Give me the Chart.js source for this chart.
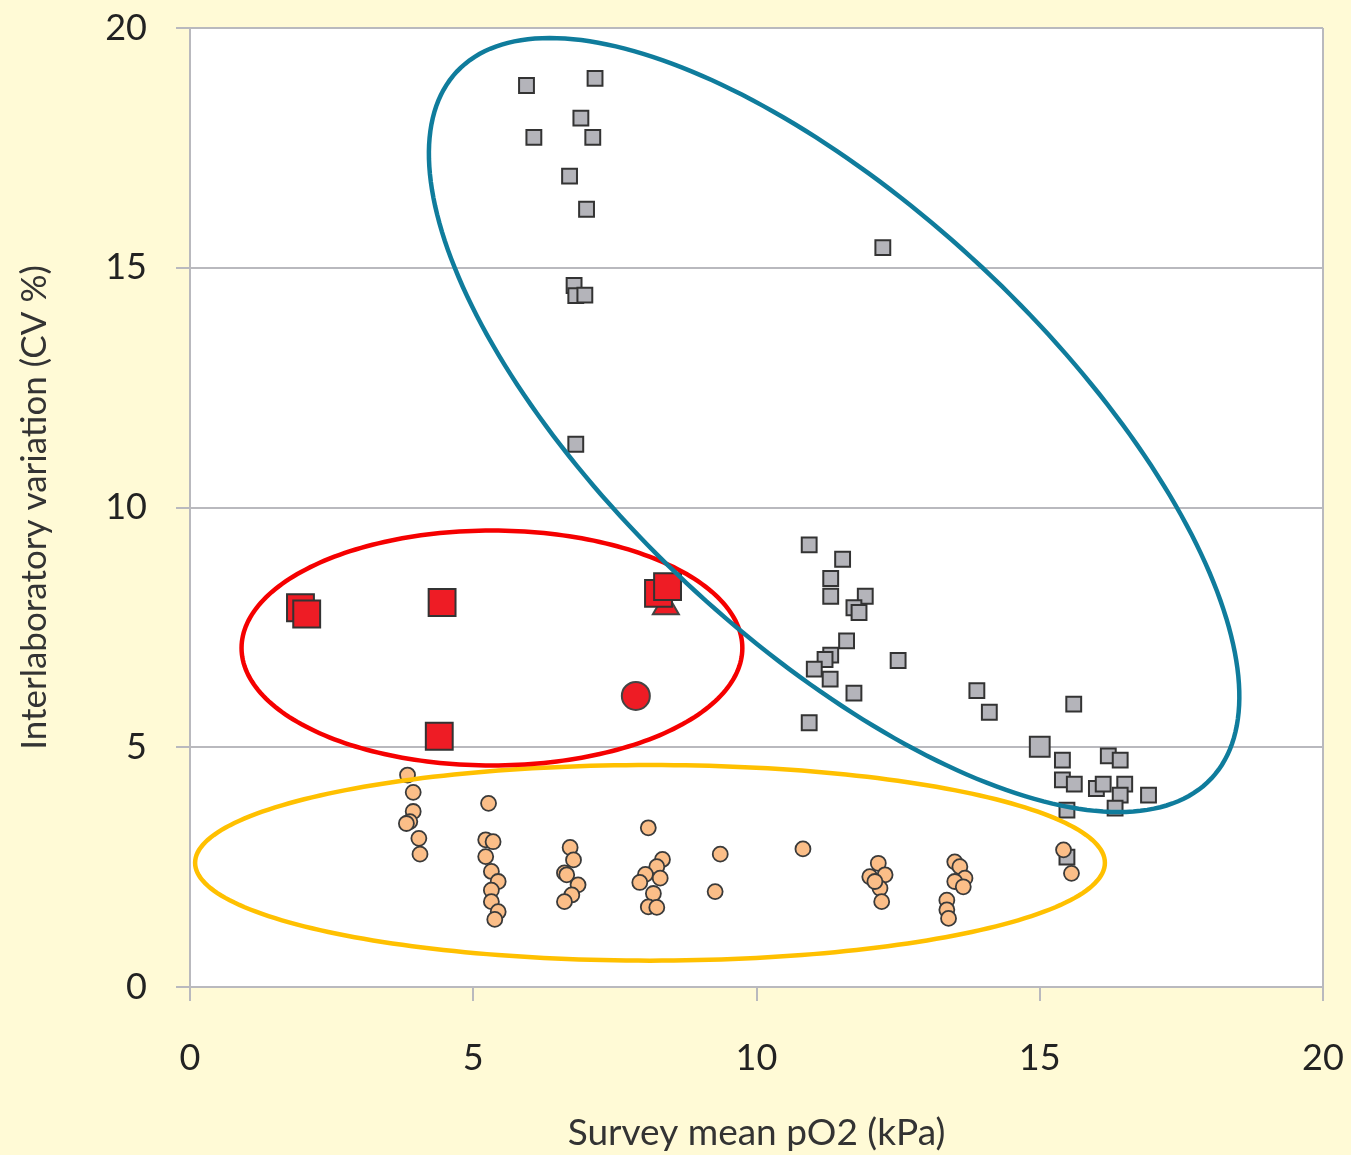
<!DOCTYPE html>
<html>
<head>
<meta charset="utf-8">
<script src="https://cdn.jsdelivr.net/npm/chart.js@4"></script>
<style>
  html, body { margin: 0; padding: 0; background: #FFFAD6; }
  #wrap { width: 1351px; height: 1155px; }
</style>
</head>
<body>
<div id="wrap"><canvas id="cv" width="1351" height="1155"></canvas></div>
<script>
const bgColor = '#FFFAD6'
const gridColor = '#B9B9BE'

// orange circles
const circleX = [3.84, 3.94, 3.94, 3.88, 3.82, 4.04, 4.06,
    5.27, 5.22, 5.35, 5.22, 5.32, 5.44, 5.32, 5.32, 5.44, 5.38,
    6.71, 6.77, 6.61, 6.65, 6.85, 6.74, 6.61,
    8.09, 8.34, 8.24, 8.04, 8.30, 7.94, 8.18, 8.09, 8.24,
    9.36, 9.27, 10.82,
    12.15, 12.00, 12.27, 12.18, 12.09, 12.21,
    13.50, 13.59, 13.68, 13.50, 13.65, 13.36, 13.36, 13.39,
    15.42, 15.56];
const circleY = [4.42, 4.06, 3.66, 3.45, 3.41, 3.10, 2.77,
    3.83, 3.07, 3.03, 2.72, 2.41, 2.20, 2.02, 1.78, 1.57, 1.41,
    2.91, 2.65, 2.38, 2.34, 2.13, 1.92, 1.78,
    3.32, 2.66, 2.51, 2.35, 2.27, 2.18, 1.95, 1.67, 1.66,
    2.77, 1.99, 2.88,
    2.58, 2.30, 2.34, 2.06, 2.20, 1.78,
    2.61, 2.51, 2.27, 2.20, 2.09, 1.81, 1.61, 1.43,
    2.86, 2.37];

// grey squares
const squareX = [5.94, 7.15, 6.90, 6.07, 7.11, 6.70, 7.00, 12.23, 6.78, 6.81, 6.97, 6.81,
    10.93, 11.52, 11.31, 11.31, 11.92, 11.72, 11.81, 11.59, 11.31, 11.21, 11.02, 11.30,
    12.50, 11.72, 10.93, 13.89, 14.11, 15.60,
    15.40, 15.40, 15.61, 16.21, 16.42, 16.00, 16.12, 16.50, 16.42, 16.92, 15.48, 16.33, 15.48];
const squareY = [18.80, 18.95, 18.12, 17.72, 17.72, 16.91, 16.22, 15.42, 14.63, 14.42, 14.43, 11.32,
    9.22, 8.92, 8.52, 8.15, 8.15, 7.91, 7.81, 7.22, 6.92, 6.83, 6.63, 6.42,
    6.81, 6.13, 5.51, 6.18, 5.73, 5.90,
    4.73, 4.32, 4.23, 4.82, 4.73, 4.14, 4.23, 4.23, 4.00, 4.00, 3.69, 3.73, 2.71];
const bigSquareX = [15.0];
const bigSquareY = [5.01];

// red markers
const redSquareX = [1.95, 2.06, 4.45, 4.40, 8.27, 8.43];
const redSquareY = [7.91, 7.78, 8.02, 5.23, 8.21, 8.35];
const redCircleX = [7.87];
const redCircleY = [6.07];
const redTriangleX = [8.40];
const redTriangleY = [7.93];

const xTicks = [0, 5, 10, 15, 20];
const yTicks = [0, 5, 10, 15, 20];

// ellipses: centre and two conjugate half-axes, all in data units
const ellipses = [
    { cx: 8.12, cy: 2.59, ux: 8.03, uy: 0, vx: 0, vy: 2.04, color: '#FFC000' },
    { cx: 5.33, cy: 7.07, ux: 4.42, uy: 0, vx: 0, vy: 2.45, color: '#F50000' },
    { cx: 11.37, cy: 11.72, ux: 6.66, uy: -7.37, vx: -2.61, vy: -3.29, color: '#0F7C9C' }
];

function toPoints(xs, ys) {
    return xs.map((x, i) => ({ x: x, y: ys[i] }));
}

const plotBg = {
    id: 'plotBg',
    beforeDraw(chart) {
        const ctx = chart.ctx;
        const a = chart.chartArea;
        ctx.save();
        ctx.fillStyle = bgColor;
        ctx.fillRect(0, 0, chart.width, chart.height);
        ctx.fillStyle = '#FFFFFF';
        ctx.fillRect(a.left, a.top, a.right - a.left, a.bottom - a.top);
        ctx.restore();
    }
};

const ellipsePlugin = {
    id: 'ellipses',
    afterDatasetsDraw(chart) {
        const ctx = chart.ctx;
        const xs = chart.scales.x, ys = chart.scales.y;
        ctx.save();
        ctx.lineWidth = 4.5;
        ellipses.forEach(e => {
            ctx.beginPath();
            for (let k = 0; k <= 240; k++) {
                const t = k / 240 * Math.PI * 2;
                const px = xs.getPixelForValue(e.cx + e.ux * Math.cos(t) + e.vx * Math.sin(t));
                const py = ys.getPixelForValue(e.cy + e.uy * Math.cos(t) + e.vy * Math.sin(t));
                if (k === 0) ctx.moveTo(px, py); else ctx.lineTo(px, py);
            }
            ctx.closePath();
            ctx.strokeStyle = e.color;
            ctx.stroke();
        });
        ctx.restore();
    }
};

const data = {
    datasets: [
        {
            data: toPoints(circleX, circleY),
            pointStyle: 'circle', pointRadius: 7.5,
            backgroundColor: '#FBBE88', borderColor: '#3A3A3A', borderWidth: 1.8
        },
        {
            data: toPoints(squareX, squareY),
            pointStyle: 'rect', pointRadius: 10.5,
            backgroundColor: '#B4B4BA', borderColor: '#333333', borderWidth: 2
        },
        {
            data: toPoints(bigSquareX, bigSquareY),
            pointStyle: 'rect', pointRadius: 14,
            backgroundColor: '#B4B4BA', borderColor: '#333333', borderWidth: 2
        },
        {
            data: toPoints(redSquareX, redSquareY),
            pointStyle: 'rect', pointRadius: 19,
            backgroundColor: '#EE1C25', borderColor: '#333333', borderWidth: 2
        },
        {
            data: toPoints(redCircleX, redCircleY),
            pointStyle: 'circle', pointRadius: 14,
            backgroundColor: '#EE1C25', borderColor: '#444444', borderWidth: 2
        },
        {
            data: toPoints(redTriangleX, redTriangleY),
            pointStyle: 'triangle', pointRadius: 15,
            backgroundColor: '#EE1C25', borderColor: '#444444', borderWidth: 2
        }
    ]
};

const tickFont = { family: 'Lato', size: 36 };

const config = {
    type: 'scatter',
    data: data,
    options: {
        responsive: false,
        animation: false,
        layout: { padding: { top: 28, right: 28, left: 0, bottom: 0 } },
        plugins: { legend: { display: false }, tooltip: { enabled: false } },
        scales: {
            x: {
                type: 'linear', min: 0, max: 20,
                afterBuildTicks: s => { s.ticks = xTicks.map(v => ({ value: v })); },
                afterFit: s => { s.height = 168; s.paddingRight = 0; s.paddingLeft = 0; },
                ticks: { font: tickFont, color: '#222222', padding: 36, maxRotation: 0 },
                grid: {
                    color: c => (c.tick && c.tick.value === 20) ? gridColor : 'rgba(0,0,0,0)',
                    tickColor: gridColor, tickLength: 14, lineWidth: 2
                },
                border: { color: gridColor, width: 2 },
                title: {
                    display: true, text: 'Survey mean pO2 (kPa)', color: '#333333',
                    font: { family: 'Lato', size: 37 }, padding: { top: 0, bottom: 0 }
                }
            },
            y: {
                type: 'linear', min: 0, max: 20,
                afterBuildTicks: s => { s.ticks = yTicks.map(v => ({ value: v })); },
                afterFit: s => { s.width = 190; s.paddingTop = 0; s.paddingBottom = 0; },
                ticks: { font: tickFont, color: '#222222', padding: 29 },
                grid: { color: gridColor, tickColor: gridColor, tickLength: 14, lineWidth: 2 },
                border: { color: gridColor, width: 2 },
                title: {
                    display: true, text: 'Interlaboratory variation (CV %)', color: '#333333',
                    font: { family: 'Lato', size: 35 }, padding: { top: 14, bottom: 0 }
                }
            }
        }
    },
    plugins: [plotBg, ellipsePlugin]
};

const ch = new Chart(document.getElementById('cv'), config);
</script>
</body>
</html>
